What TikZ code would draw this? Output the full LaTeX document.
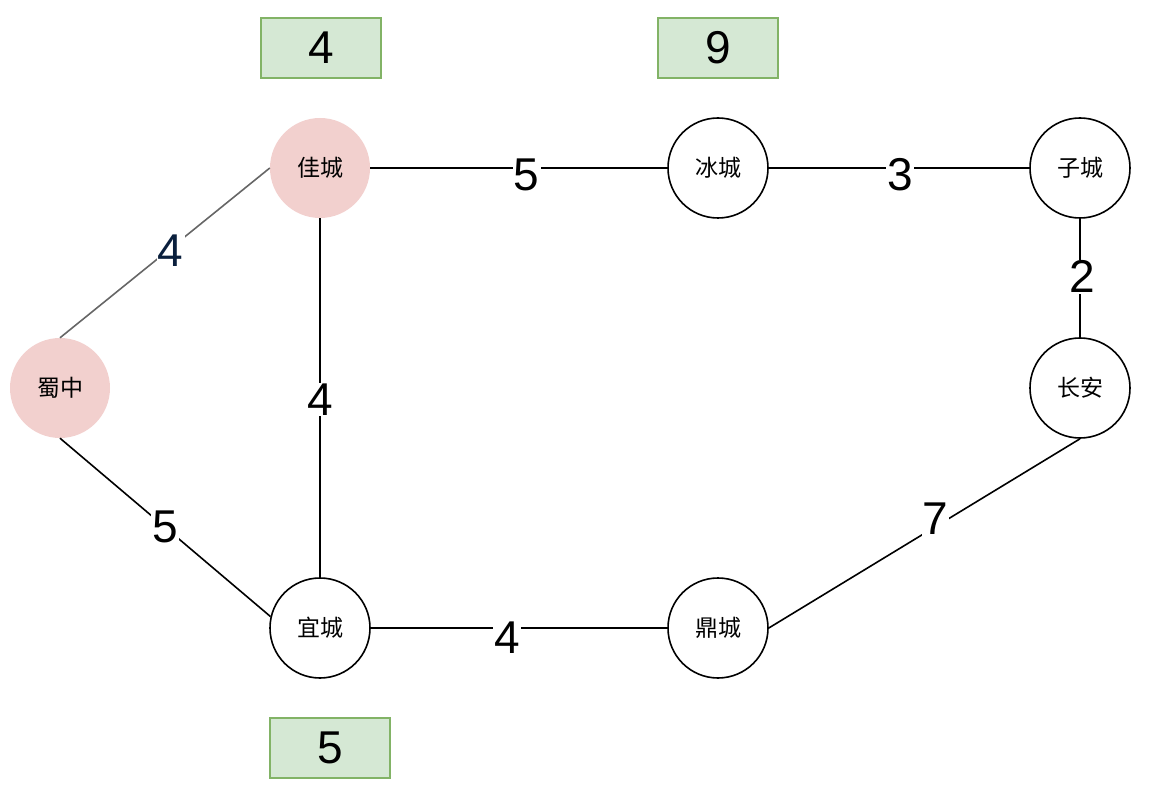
\documentclass[tikz,border=0pt]{standalone}
\usepackage{fontspec}
\setmainfont{Liberation Sans}
\newfontfamily\cjk{Noto Sans CJK SC}
\definecolor{pinkfill}{HTML}{F2D0CE}
\definecolor{greenfill}{HTML}{D5E8D4}
\definecolor{greenline}{HTML}{82B366}
\definecolor{navy}{HTML}{0A1F3D}
\begin{document}
\begin{tikzpicture}[x=1pt,y=-1pt,
  city/.style={circle, minimum size=100pt, inner sep=0pt, font=\cjk\fontsize{23}{26}\selectfont},
  hot/.style={city, fill=pinkfill},
  cold/.style={city, draw=black, line width=1.6pt, fill=white},
  dist/.style={rectangle, minimum width=120pt, minimum height=60pt, inner sep=0pt, fill=greenfill, draw=greenline, line width=1.6pt, font=\fontsize{46}{50}\selectfont},
  edge/.style={draw=black, line width=1.6pt},
  lbl/.style={fill=white, inner sep=1pt, font=\fontsize{46}{50}\selectfont, text=black}
]
\useasboundingbox (0,0) rectangle (1152,786);

\node[hot]  (shu)  at (60,388)   {蜀中};
\node[hot]  (jia)  at (320,168)  {佳城};
\node[cold] (bing) at (718,168)  {冰城};
\node[cold] (zi)   at (1080,168) {子城};
\node[cold] (chang) at (1080,388) {长安};
\node[cold] (yi)   at (320,628)  {宜城};
\node[cold] (ding) at (718,628)  {鼎城};

\node[dist] (d1) at (321,48) {\raisebox{-4pt}{4}};
\node[dist] (d2) at (718,48) {\raisebox{-4pt}{9}};
\node[dist] (d3) at (330,748) {\raisebox{-4pt}{5}};

\draw[draw=black!60, line width=1.6pt] (shu.north) -- node[lbl, pos=0.528, yshift=-3pt, text=navy] {4} (jia.west);
\draw[edge] (shu.south) -- node[lbl, pos=0.5] {5} (yi.167);
\draw[edge] (jia.south) -- node[lbl, pos=0.505] {4} (yi.north);
\draw[edge] (jia.east) -- node[lbl, pos=0.527, yshift=-7pt] {5} (bing.west);
\draw[edge] (bing.east) -- node[lbl, pos=0.504, yshift=-7pt] {3} (zi.west);
\draw[edge] (zi.south) -- node[lbl, pos=0.49, xshift=2pt] {2} (chang.north);
\draw[edge] (chang.south) -- node[lbl, pos=0.465, yshift=8pt] {7} (ding.east);
\draw[edge] (yi.east) -- node[lbl, pos=0.46, yshift=-10pt] {4} (ding.west);
\end{tikzpicture}
\end{document}
